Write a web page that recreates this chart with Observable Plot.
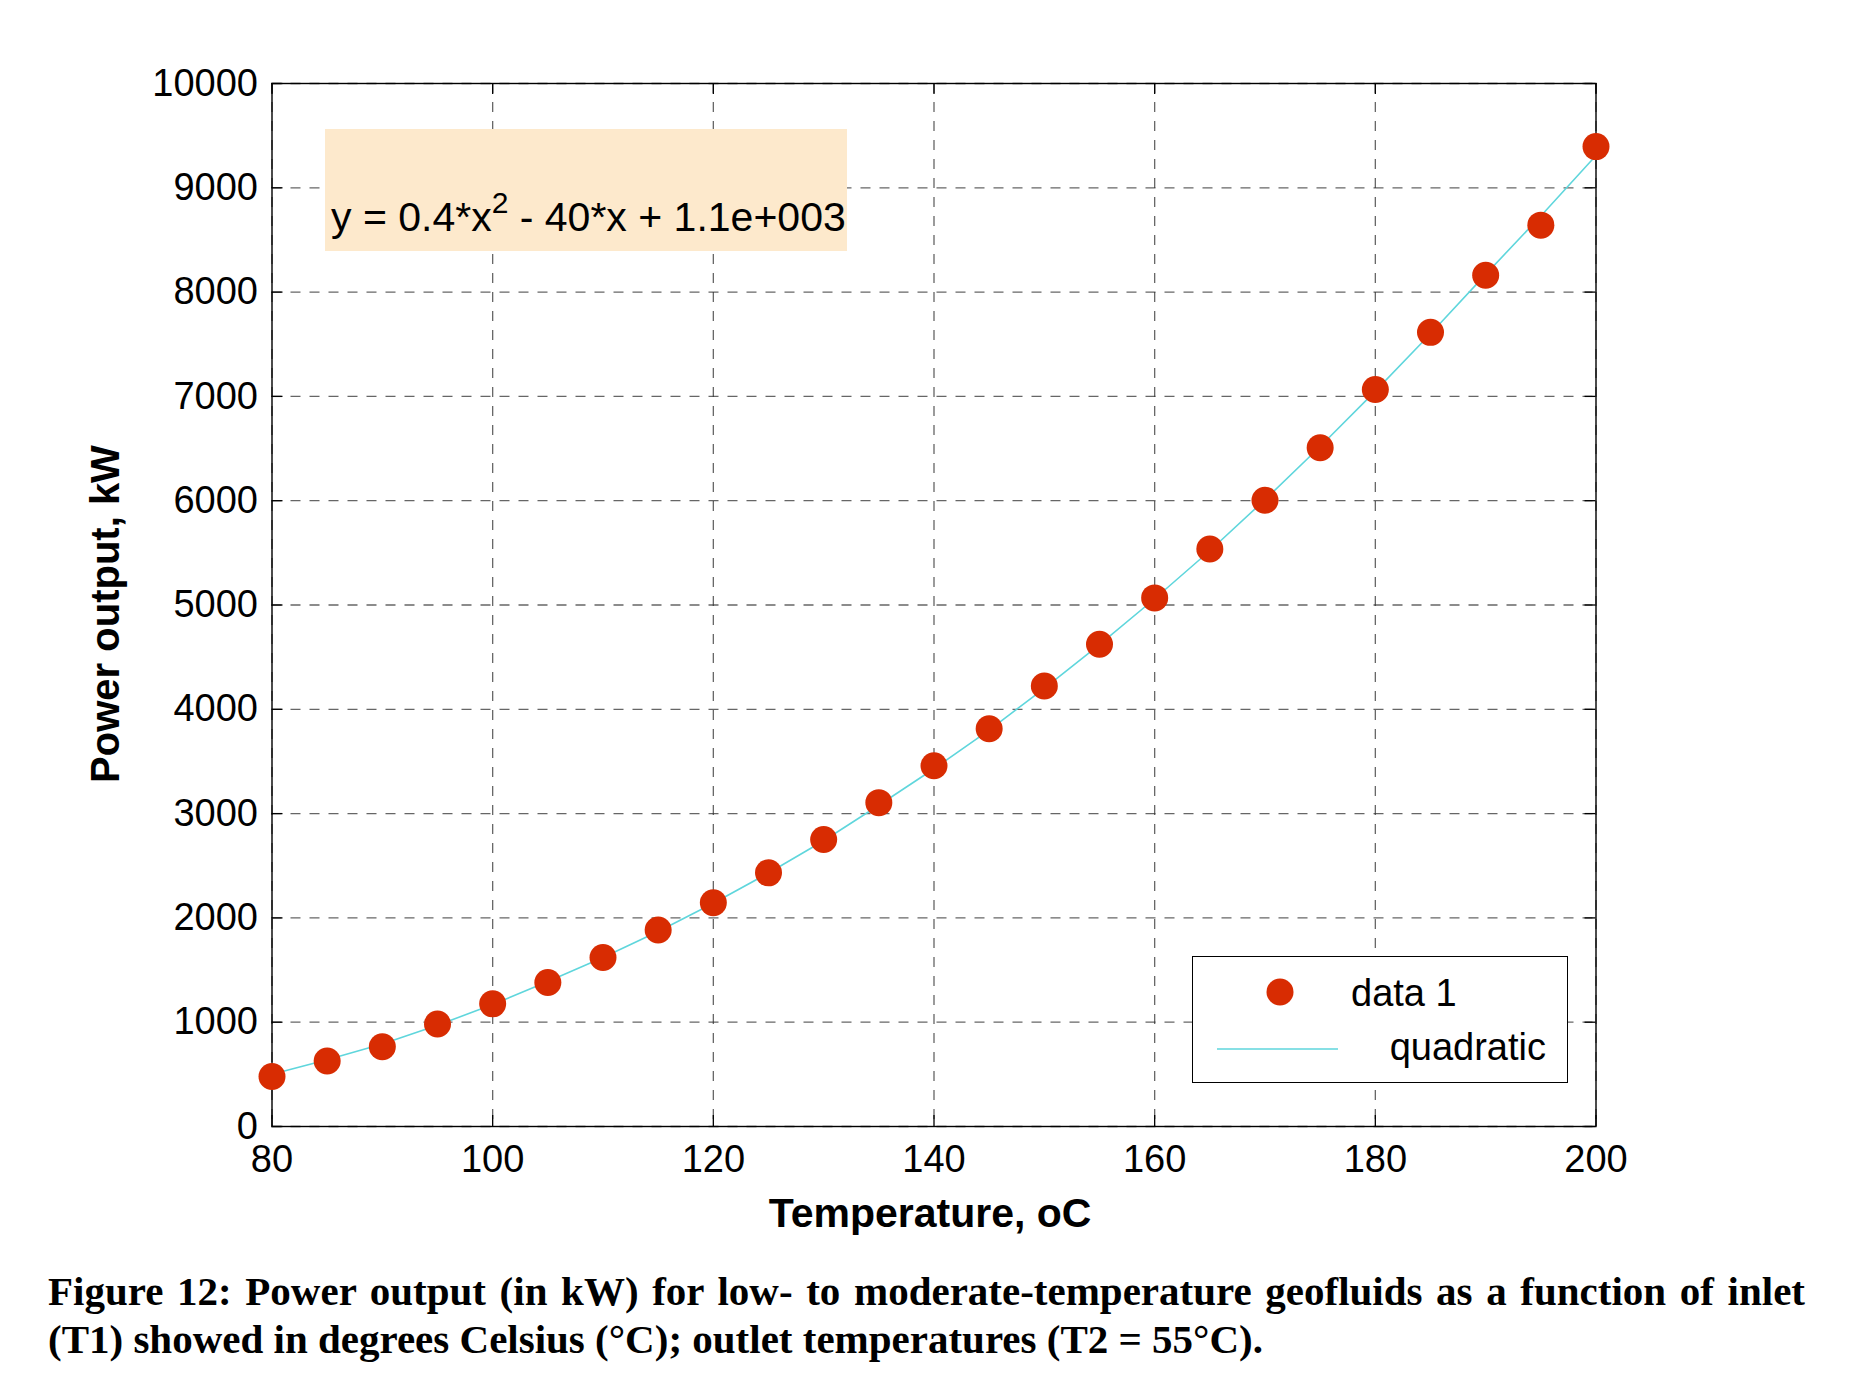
<!DOCTYPE html>
<html>
<head>
<meta charset="utf-8">
<script src="https://cdn.jsdelivr.net/npm/d3@7"></script>
<script src="https://cdn.jsdelivr.net/npm/@observablehq/plot@0.6"></script>
<style>
  html, body { margin: 0; padding: 0; background: #fff; }
  #wrap { position: relative; width: 1867px; }
  #eq { position: absolute; left: 325px; top: 129px; width: 522px; height: 122px; background: #fde9cc;
        font-family: "Liberation Sans", Arial, sans-serif; font-size: 41px; color: #000; }
  #eq span.t { position: absolute; left: 6px; top: 68px; white-space: nowrap; line-height: 1; }
  #eq sup { font-size: 30px; position: relative; top: -3px; vertical-align: super; line-height: 0; }
  #legend { position: absolute; left: 1192px; top: 956px; width: 376px; height: 127px; background: #fff;
            border: 1.3px solid #000; box-sizing: border-box; font-family: "Liberation Sans", Arial, sans-serif; font-size: 38px; }
  #caption { margin: 17px 0 0 48px; width: 1757px; font-family: "Liberation Serif", "Times New Roman", serif;
             font-weight: bold; font-size: 41px; line-height: 48px; text-align: justify; color: #000; }
</style>
</head>
<body>
<div id="wrap"></div>
<div id="caption">Figure 12: Power output (in kW) for low- to moderate-temperature geofluids as a function of inlet (T1) showed in degrees Celsius (°C); outlet temperatures (T2 = 55°C).</div>
<script>
// Data
const temperatures = [80, 85, 90, 95, 100, 105, 110, 115, 120, 125, 130, 135, 140, 145, 150, 155, 160, 165, 170, 175, 180, 185, 190, 195, 200];
const powerOutput = [479, 628, 765, 982, 1176, 1381, 1621, 1884, 2146, 2432, 2751, 3105, 3459, 3813, 4224, 4623, 5068, 5537, 6005, 6507, 7066, 7614, 8162, 8642, 9395];
const quadraticFit = [500, 640, 790, 970, 1170, 1390, 1620, 1870, 2140, 2430, 2740, 3080, 3430, 3800, 4200, 4620, 5060, 5520, 6010, 6520, 7050, 7600, 8170, 8730, 9310];
const xTicks = [80, 100, 120, 140, 160, 180, 200];
const yTicks = [0, 1000, 2000, 3000, 4000, 5000, 6000, 7000, 8000, 9000, 10000];
const xLabel = "Temperature, oC";
const yLabel = "Power output, kW";
const seriesNames = ["data 1", "quadratic"];

const points = temperatures.map((t, i) => ({t, p: powerOutput[i]}));
const fit = temperatures.map((t, i) => ({t, p: quadraticFit[i]}));

const W = 1867, H = 1250;
const mL = 271.5, mR = 271.5, mT = 83, mB = H - 1126;
const pw = W - mL - mR, ph = H - mT - mB;
const font = "Liberation Sans, Arial, sans-serif";
const red = "#d82c02", cyan = "#5fd6dc";

const chart = Plot.plot({
  width: W, height: H,
  marginLeft: mL, marginRight: mR, marginTop: mT, marginBottom: mB,
  style: {fontFamily: font, fontSize: "38px", color: "#000", background: "#fff"},
  x: {domain: [80, 200], ticks: xTicks, label: null},
  y: {domain: [0, 10000], ticks: yTicks, label: null},
  marks: [
    Plot.gridX(xTicks, {stroke: "#333", strokeOpacity: 0.75, strokeDasharray: "10,9", strokeWidth: 1.3}),
    Plot.gridY(yTicks, {stroke: "#333", strokeOpacity: 0.75, strokeDasharray: "10,9", strokeWidth: 1.3}),
    Plot.tickX(xTicks, {x: d => d, insetTop: ph - 11, stroke: "#000", strokeWidth: 1.3}),
    Plot.tickX(xTicks, {x: d => d, insetBottom: ph - 11, stroke: "#000", strokeWidth: 1.3}),
    Plot.tickY(yTicks, {y: d => d, insetRight: pw - 11, stroke: "#000", strokeWidth: 1.3}),
    Plot.tickY(yTicks, {y: d => d, insetLeft: pw - 11, stroke: "#000", strokeWidth: 1.3}),
    Plot.axisX(xTicks, {tickSize: 0, tickPadding: 19, label: null, fontSize: 38}),
    Plot.axisY(yTicks, {tickSize: 0, tickPadding: 14, label: null, fontSize: 38, tickFormat: d3.format("d")}),
    Plot.frame({stroke: "#000", strokeWidth: 1.4}),
    Plot.line(fit, {x: "t", y: "p", stroke: cyan, strokeWidth: 1.6}),
    Plot.dot(points, {x: "t", y: "p", r: 13.5, fill: red, stroke: "none"}),
    Plot.text([xLabel], {frameAnchor: "bottom", textAnchor: "middle", dx: -4, dy: 87, fontWeight: "bold", fontSize: 41, lineAnchor: "middle", fill: "#000"}),
    Plot.text([yLabel], {frameAnchor: "left", textAnchor: "middle", dx: -166, dy: 9, rotate: -90, fontWeight: "bold", fontSize: 40, lineAnchor: "middle", fill: "#000"})
  ]
});

const wrap = document.getElementById("wrap");
wrap.appendChild(chart);

const eq = document.createElement("div");
eq.id = "eq";
eq.innerHTML = '<span class="t">y = 0.4*x<sup>2</sup> - 40*x + 1.1e+003</span>';
wrap.appendChild(eq);

const lg = document.createElement("div");
lg.id = "legend";
lg.innerHTML = `
<svg width="376" height="127" style="position:absolute;left:0;top:0;overflow:visible">
  <circle cx="87" cy="35" r="13.5" fill="${red}"></circle>
  <line x1="24" x2="145" y1="92" y2="92" stroke="${cyan}" stroke-width="1.6"></line>
  <text x="158" y="49" font-family="${font}" font-size="38" fill="#000">${seriesNames[0]}</text>
  <text x="353" y="103" text-anchor="end" font-family="${font}" font-size="38" fill="#000">${seriesNames[1]}</text>
</svg>`;
wrap.appendChild(lg);
</script>
</body>
</html>
